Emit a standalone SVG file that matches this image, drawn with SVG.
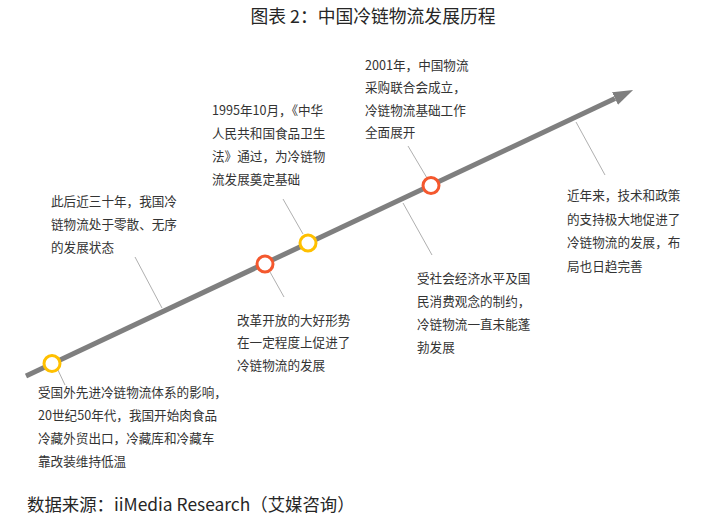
<svg xmlns="http://www.w3.org/2000/svg" width="727" height="522" viewBox="0 0 727 522">
<style>
.t{font-family:"Noto Sans CJK SC","Noto Sans",sans-serif;font-size:12.6px;fill:#333333;}
.lead{stroke:#9a9a9a;stroke-width:0.8;fill:none;}
.dot{fill:#ffffff;stroke-width:3;}
.y{stroke:#FFC000;}
.r{stroke:#F4582E;}
</style>
<defs>
<marker id="ah" markerUnits="userSpaceOnUse" markerWidth="20" markerHeight="14" refX="0" refY="7" orient="auto">
<path d="M0,0 L20,7 L0,14 Z" fill="#7f7f7f"/>
</marker>
</defs>
<rect width="727" height="522" fill="#ffffff"/>
<text x="373" y="23" text-anchor="middle" style="font-family:'Noto Sans CJK SC','Noto Sans',sans-serif;font-size:17.8px;fill:#262626;">图表 2：中国冷链物流发展历程</text>
<g id="connectors">
<line x1="26" y1="376" x2="615" y2="98.5" stroke="#7f7f7f" stroke-width="5" marker-end="url(#ah)"/>
<line class="lead" x1="57" y1="368" x2="65" y2="385"/>
<line class="lead" x1="135" y1="257" x2="162" y2="308"/>
<line class="lead" x1="283" y1="199" x2="303" y2="234"/>
<line class="lead" x1="270" y1="272" x2="284" y2="297"/>
<line class="lead" x1="408" y1="146" x2="427" y2="178"/>
<line class="lead" x1="403" y1="203" x2="432" y2="255"/>
<line class="lead" x1="576" y1="122" x2="605" y2="175"/>
</g>
<g id="n1">
<circle class="dot y" cx="52" cy="363.5" r="8"/>
<text class="t" x="38"><tspan x="38" y="397">受国外先进冷链物流体系的影响，</tspan><tspan x="38" y="420">20世纪50年代，我国开始肉食品</tspan><tspan x="38" y="443">冷藏外贸出口，冷藏库和冷藏车</tspan><tspan x="38" y="466">靠改装维持低温</tspan></text>
</g>
<g id="n2">
<text class="t"><tspan x="51" y="206">此后近三十年，我国冷</tspan><tspan x="51" y="229">链物流处于零散、无序</tspan><tspan x="51" y="252">的发展状态</tspan></text>
</g>
<g id="n3">
<circle class="dot r" cx="265" cy="264" r="8"/>
<text class="t"><tspan x="237" y="324.5">改革开放的大好形势</tspan><tspan x="237" y="347">在一定程度上促进了</tspan><tspan x="237" y="369.5">冷链物流的发展</tspan></text>
</g>
<g id="n4">
<circle class="dot y" cx="308" cy="243" r="8"/>
<text class="t"><tspan x="212" y="115">1995年10月，《中华</tspan><tspan x="212" y="138">人民共和国食品卫生</tspan><tspan x="212" y="161">法》通过，为冷链物</tspan><tspan x="212" y="184">流发展奠定基础</tspan></text>
</g>
<g id="n5">
<circle class="dot r" cx="431" cy="185.5" r="8"/>
<text class="t"><tspan x="365" y="69.5">2001年，中国物流</tspan><tspan x="365" y="92">采购联合会成立，</tspan><tspan x="365" y="114.5">冷链物流基础工作</tspan><tspan x="365" y="137">全面展开</tspan></text>
</g>
<g id="n6">
<text class="t"><tspan x="417" y="283">受社会经济水平及国</tspan><tspan x="417" y="306">民消费观念的制约，</tspan><tspan x="417" y="329">冷链物流一直未能蓬</tspan><tspan x="417" y="352">勃发展</tspan></text>
</g>
<g id="n7">
<text class="t"><tspan x="567" y="199.5">近年来，技术和政策</tspan><tspan x="567" y="223.5">的支持极大地促进了</tspan><tspan x="567" y="247">冷链物流的发展，布</tspan><tspan x="567" y="270.5">局也日趋完善</tspan></text>
</g>
<text x="27" y="511" style="font-family:'Noto Sans CJK SC','Noto Sans',sans-serif;font-size:17.4px;fill:#262626;">数据来源：iiMedia Research（艾媒咨询）</text>
</svg>
